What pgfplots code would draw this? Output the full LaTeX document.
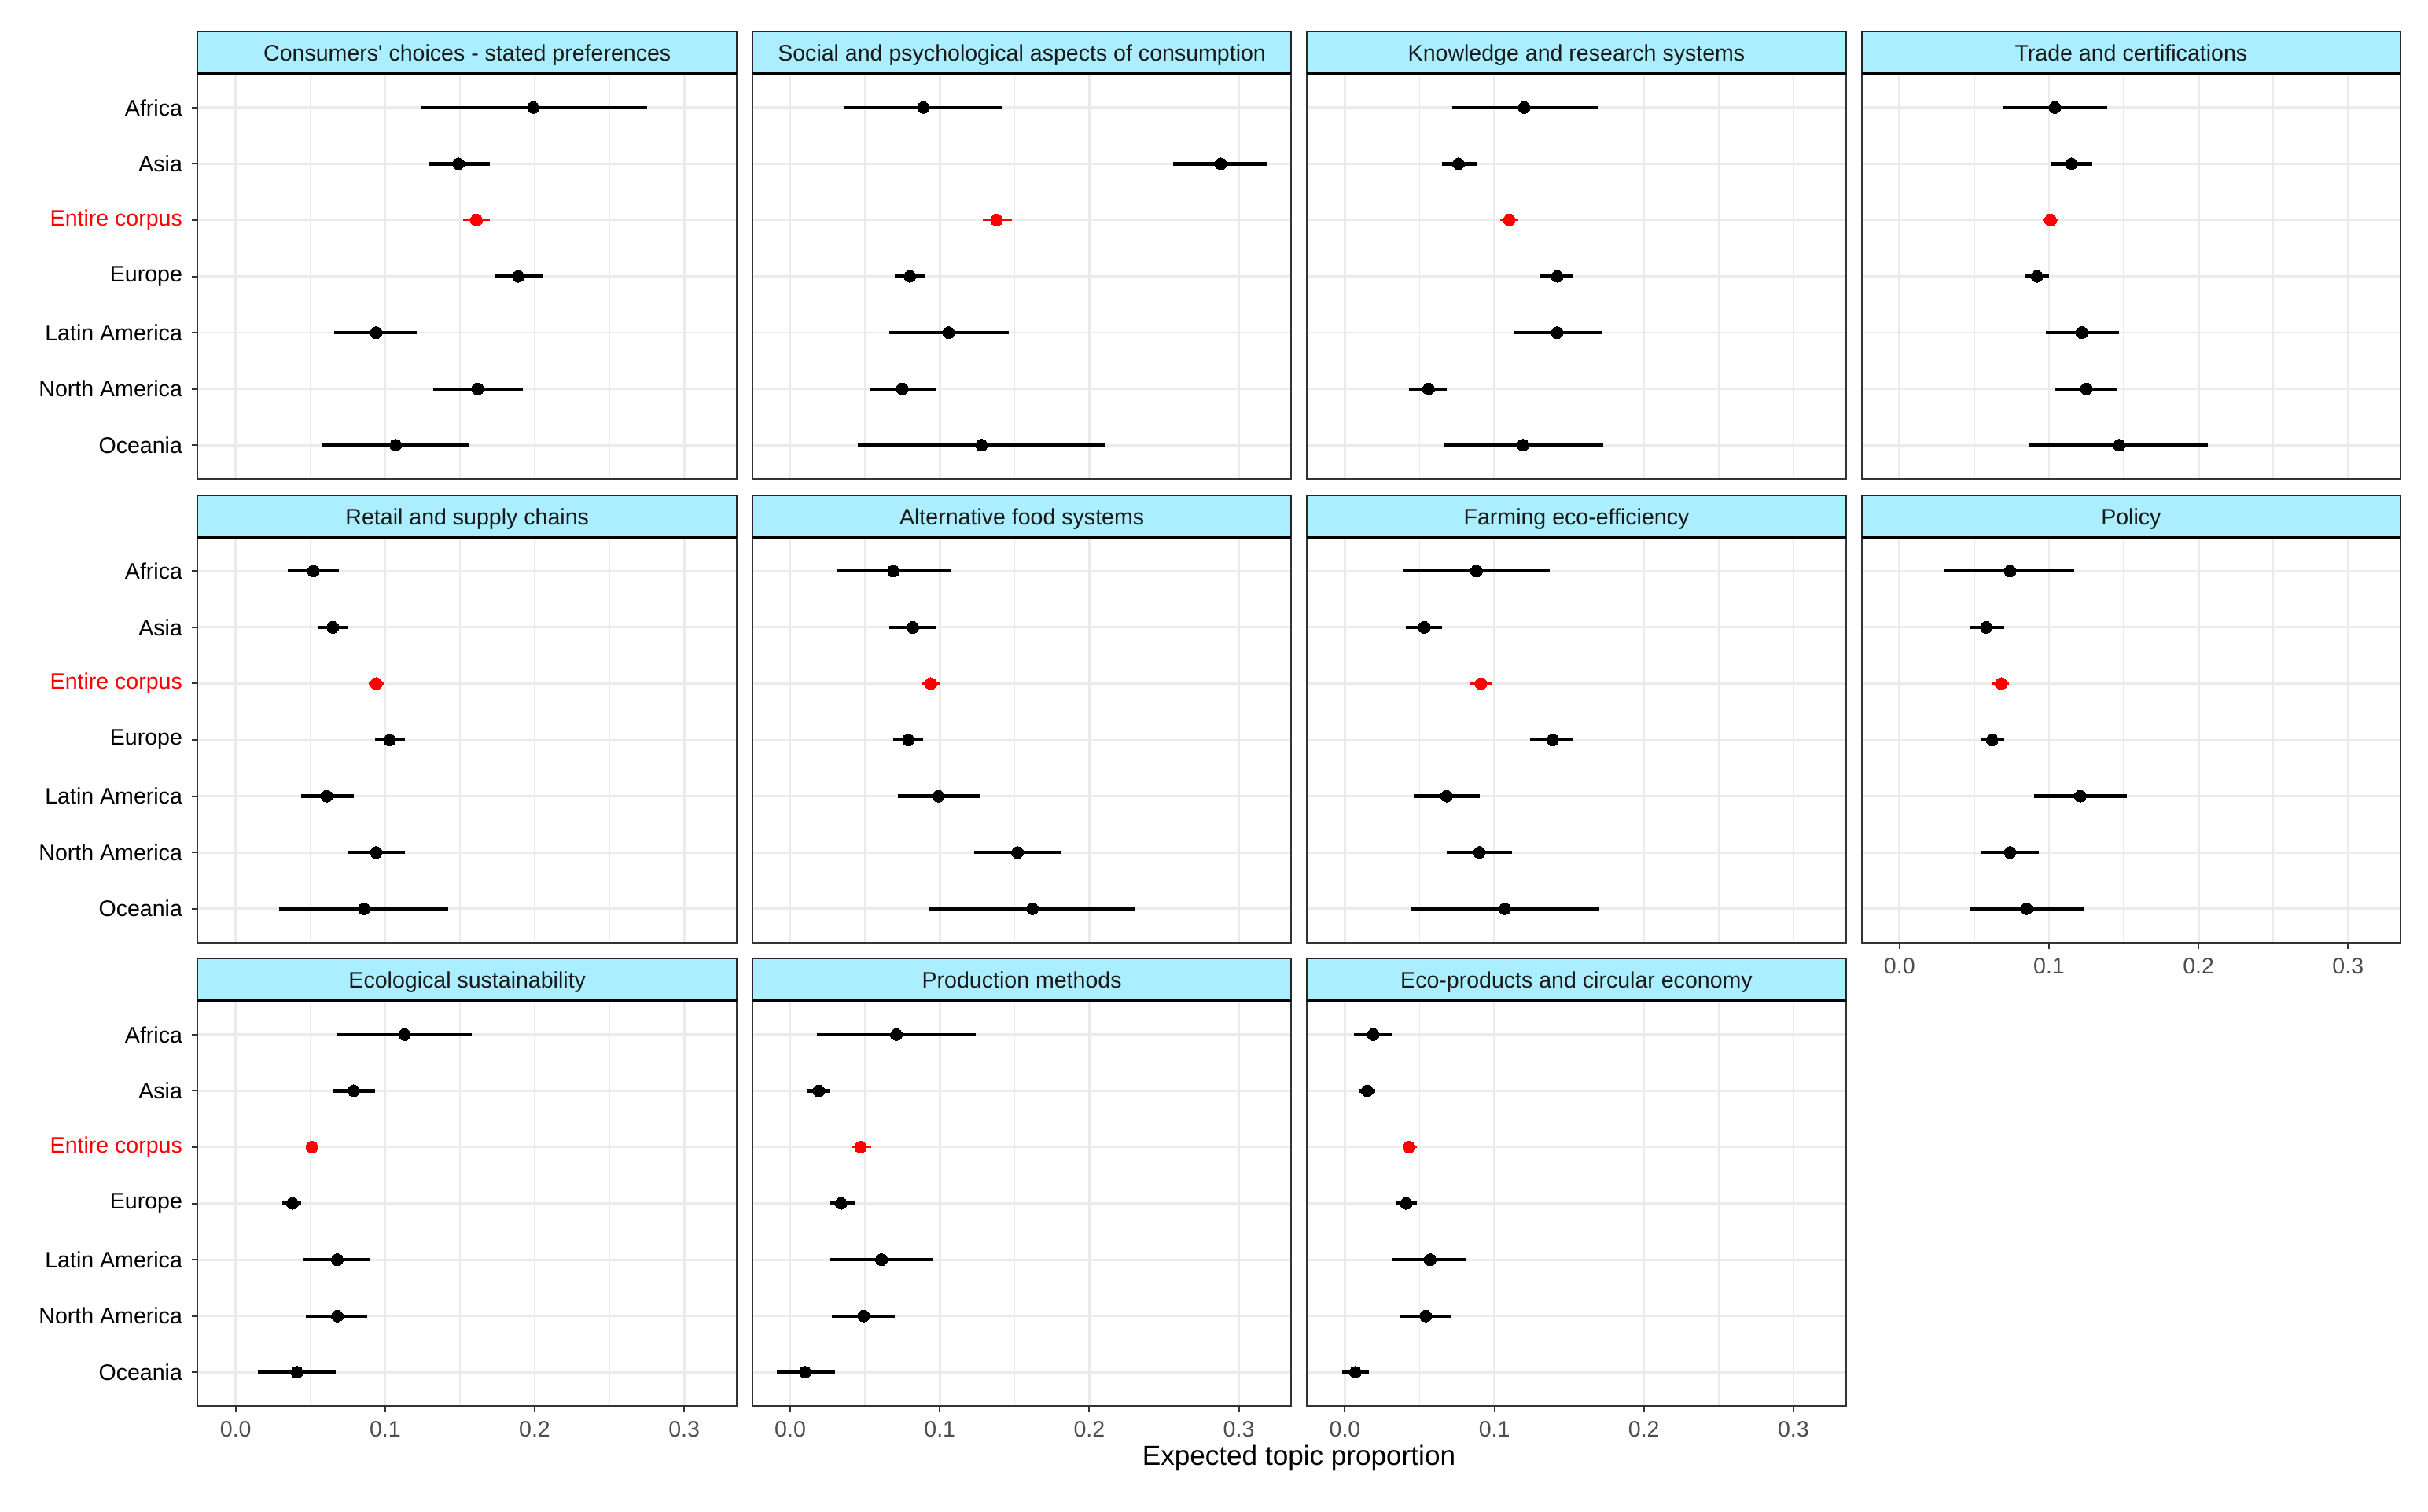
\documentclass[border=0pt]{standalone}
\usepackage{fontspec}
\setmainfont{Liberation Sans}
\usepackage{pgfplots}
\usepackage{pgfplotstable}
\pgfplotsset{compat=1.18}

\definecolor{grey92}{RGB}{235,235,235}
\definecolor{grey20}{RGB}{51,51,51}
\definecolor{grey30}{RGB}{77,77,77}
\definecolor{stripcol}{RGB}{170,238,255}

% k: row (0 = Africa ... 6 = Oceania), m: estimate, lo/hi: interval
\pgfplotstableread{
k m lo hi
0 0.199 0.124 0.275
1 0.149 0.129 0.170
2 0.161 0.152 0.170
3 0.189 0.173 0.206
4 0.094 0.066 0.121
5 0.162 0.132 0.192
6 0.107 0.058 0.156
}\consumers
\pgfplotstableread{
k m lo hi
0 0.089 0.036 0.142
1 0.288 0.256 0.319
2 0.138 0.129 0.148
3 0.080 0.070 0.090
4 0.106 0.066 0.146
5 0.075 0.053 0.098
6 0.128 0.045 0.211
}\social
\pgfplotstableread{
k m lo hi
0 0.120 0.072 0.169
1 0.076 0.065 0.088
2 0.110 0.104 0.116
3 0.142 0.130 0.153
4 0.142 0.113 0.172
5 0.056 0.043 0.068
6 0.119 0.066 0.173
}\knowledge
\pgfplotstableread{
k m lo hi
0 0.104 0.069 0.139
1 0.115 0.101 0.129
2 0.101 0.096 0.106
3 0.092 0.084 0.100
4 0.122 0.098 0.147
5 0.125 0.104 0.145
6 0.147 0.087 0.206
}\trade
\pgfplotstableread{
k m lo hi
0 0.052 0.035 0.069
1 0.065 0.055 0.075
2 0.094 0.089 0.099
3 0.103 0.093 0.113
4 0.061 0.044 0.079
5 0.094 0.075 0.113
6 0.086 0.029 0.142
}\retail
\pgfplotstableread{
k m lo hi
0 0.069 0.031 0.107
1 0.082 0.066 0.098
2 0.094 0.088 0.100
3 0.079 0.069 0.089
4 0.099 0.072 0.127
5 0.152 0.123 0.181
6 0.162 0.093 0.231
}\altfood
\pgfplotstableread{
k m lo hi
0 0.088 0.039 0.137
1 0.053 0.041 0.065
2 0.091 0.084 0.098
3 0.139 0.124 0.153
4 0.068 0.046 0.090
5 0.090 0.068 0.112
6 0.107 0.044 0.170
}\farming
\pgfplotstableread{
k m lo hi
0 0.074 0.030 0.117
1 0.058 0.047 0.070
2 0.068 0.062 0.073
3 0.062 0.054 0.070
4 0.121 0.090 0.152
5 0.074 0.055 0.093
6 0.085 0.047 0.123
}\policy
\pgfplotstableread{
k m lo hi
0 0.113 0.068 0.158
1 0.079 0.065 0.093
2 0.051 0.047 0.055
3 0.038 0.031 0.044
4 0.068 0.045 0.090
5 0.068 0.047 0.088
6 0.041 0.015 0.067
}\ecological
\pgfplotstableread{
k m lo hi
0 0.071 0.018 0.124
1 0.019 0.011 0.026
2 0.047 0.041 0.054
3 0.034 0.026 0.043
4 0.061 0.027 0.095
5 0.049 0.028 0.070
6 0.010 -0.009 0.030
}\production
\pgfplotstableread{
k m lo hi
0 0.019 0.006 0.032
1 0.015 0.010 0.020
2 0.043 0.039 0.048
3 0.041 0.034 0.048
4 0.057 0.032 0.081
5 0.054 0.037 0.071
6 0.007 -0.002 0.016
}\ecoproducts

\newcommand{\smallfont}{\fontsize{8.7}{10}\selectfont}

\pgfplotsset{
  facet/.style={
    scale only axis, width=208.9pt, height=157pt, anchor=south west,
    xmin=-0.0254, xmax=0.3352, ymin=-0.6, ymax=6.6, y dir=reverse,
    xtick={0,0.1,0.2,0.3}, minor xtick={0.05,0.15,0.25}, ytick={0,...,6},
    xmajorgrids, xminorgrids, ymajorgrids,
    major grid style={grey92, line width=0.85pt},
    minor grid style={grey92, line width=0.45pt},
    axis line style={grey20, line width=0.6pt},
    xticklabels={}, yticklabels={},
    major tick length=2.4pt, minor tick length=0pt,
    tick align=outside, xtick pos=bottom, ytick pos=left,
    xtick style={draw=none}, ytick style={draw=none},
    tick label style={font=\smallfont},
    clip=false,
  },
  leftcol/.style={
    yticklabels={Africa,Asia,\textcolor{red}{Entire corpus},Europe,Latin America,North America,Oceania},
    ytick style={draw=grey20, line width=0.6pt},
  },
  bottomrow/.style={
    xticklabels={0.0,0.1,0.2,0.3},
    xticklabel style={text=grey30},
    xtick style={draw=grey20, line width=0.6pt},
  },
}

% #1 x, #2 y, #3 table, #4 strip title, #5 extra options
\newcommand{\facet}[5]{%
  \begin{axis}[facet, at={(#1,#2)}, #5]
    \addplot[black, only marks, mark=*, mark size=2.3pt, mark options={line width=0pt},
      skip coords between index={2}{3},
      error bars/.cd, x dir=both, x explicit, error mark=none,
      error bar style={line width=1.3pt, black}]
      table[x=m, y=k, x error plus expr=\thisrow{hi}-\thisrow{m},
            x error minus expr=\thisrow{m}-\thisrow{lo}] {#3};
    \addplot[red, only marks, mark=*, mark size=2.3pt, mark options={line width=0pt},
      skip coords between index={0}{2}, skip coords between index={3}{7},
      error bars/.cd, x dir=both, x explicit, error mark=none,
      error bar style={line width=0.9pt, red}]
      table[x=m, y=k, x error plus expr=\thisrow{hi}-\thisrow{m},
            x error minus expr=\thisrow{m}-\thisrow{lo}] {#3};
    \draw[black!85, line width=0.6pt, fill=stripcol] (rel axis cs:0,1) rectangle ([yshift=16.4pt]rel axis cs:1,1);
    \draw[black, line width=0.9pt] (rel axis cs:0,1) -- (rel axis cs:1,1);
    \node[font=\smallfont, text=black!90, anchor=base, inner sep=0pt] at ([yshift=4.9pt]rel axis cs:0.5,1) {#4};
  \end{axis}}

\begin{document}
\begin{tikzpicture}
\useasboundingbox (0,0) rectangle (940.8pt,585.6pt);

% row 1
\facet{76.6pt}{400pt}{\consumers}{Consumers\XeTeXglyph\XeTeXcharglyph"0027\relax{} choices - stated preferences}{leftcol}
\facet{291.5pt}{400pt}{\social}{Social and psychological aspects of consumption}{}
\facet{506.4pt}{400pt}{\knowledge}{Knowledge and research systems}{}
\facet{721.3pt}{400pt}{\trade}{Trade and certifications}{}
% row 2
\facet{76.6pt}{220.4pt}{\retail}{Retail and supply chains}{leftcol}
\facet{291.5pt}{220.4pt}{\altfood}{Alternative food systems}{}
\facet{506.4pt}{220.4pt}{\farming}{Farming eco-efficiency}{}
\facet{721.3pt}{220.4pt}{\policy}{Policy}{bottomrow}
% row 3
\facet{76.6pt}{40.8pt}{\ecological}{Ecological sustainability}{leftcol, bottomrow}
\facet{291.5pt}{40.8pt}{\production}{Production methods}{bottomrow}
\facet{506.4pt}{40.8pt}{\ecoproducts}{Eco-products and circular economy}{bottomrow}

\node[font=\fontsize{10.7}{12}\selectfont] at (503.3pt,20.7pt) {Expected topic proportion};
\end{tikzpicture}
\end{document}
